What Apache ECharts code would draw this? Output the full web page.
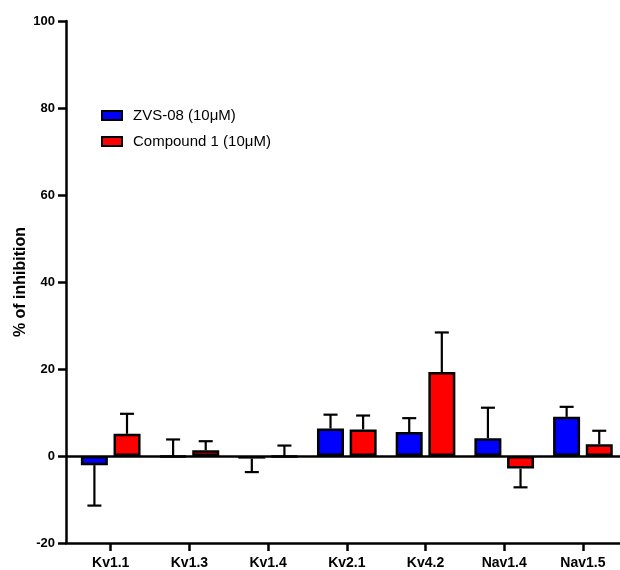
<!DOCTYPE html>
<html>
<head>
<meta charset="utf-8">
<script src="https://cdn.jsdelivr.net/npm/echarts@6/dist/echarts.min.js"></script>
<style>
html,body{margin:0;padding:0;background:#fff;}
#chart{width:620px;height:570px;}
</style>
</head>
<body>
<div id="chart"></div>
<script>
const categories = ['Kv1.1', 'Kv1.3', 'Kv1.4', 'Kv2.1', 'Kv4.2', 'Nav1.4', 'Nav1.5'];
const seriesNames = ['ZVS-08 (10\u03bcM)', 'Compound 1 (10\u03bcM)'];
const zvsValues = [-2.1, -0.2, -0.6, 6.3, 5.5, 4.1, 9.0];
const zvsErrorEnds = [-11.4, 3.8, -3.7, 9.5, 8.7, 11.1, 11.3];
const cmpValues = [5.1, 1.3, -0.2, 6.1, 19.3, -2.9, 2.7];
const cmpErrorEnds = [9.7, 3.4, 2.4, 9.3, 28.4, -7.2, 5.8];
const yTicks = [-20, 0, 20, 40, 60, 80, 100];

const FONT = '"Liberation Sans", Arial, sans-serif';
const chart = echarts.init(document.getElementById('chart'), null, {renderer: 'canvas'});

function barData(vals) { return vals.map((v, i) => [i, v]); }
function errData(vals, ends) { return vals.map((v, i) => [i, v, ends[i]]); }

function errRender(offset) {
  return function (params, api) {
    const i = api.value(0);
    const p0 = api.coord([i, api.value(1)]);
    const p1 = api.coord([i, api.value(2)]);
    const x = p0[0] + offset;
    const style = {stroke: '#000', lineWidth: 2.2};
    return {
      type: 'group',
      children: [
        {type: 'line', shape: {x1: x, y1: p0[1], x2: x, y2: p1[1]}, style: style},
        {type: 'line', shape: {x1: x - 7, y1: p1[1], x2: x + 7, y2: p1[1]}, style: style}
      ]
    };
  };
}

const tickIdx = categories.map((c, i) => i);

chart.setOption({
  animation: false,
  backgroundColor: '#fff',
  textStyle: {fontFamily: FONT},
  grid: {left: 66, right: 0, top: 21, bottom: 25.5, containLabel: false},
  legend: {
    orient: 'vertical',
    left: 101,
    top: 108,
    padding: 0,
    icon: 'rect',
    itemWidth: 20,
    itemHeight: 9,
    itemGap: 11,
    textStyle: {fontFamily: FONT, fontSize: 15, color: '#000', lineHeight: 15, padding: [0, 0, 0, 6]},
    data: seriesNames
  },
  xAxis: {
    type: 'value',
    min: -0.568,
    max: 6.471,
    splitLine: {show: false},
    axisLine: {onZero: false, lineStyle: {color: '#000', width: 2.5}},
    axisTick: {customValues: tickIdx, length: 8, lineStyle: {color: '#000', width: 2.5}},
    axisLabel: {
      customValues: tickIdx,
      formatter: v => categories[Math.round(v)],
      fontFamily: FONT, fontSize: 14, fontWeight: 'bold', color: '#000', margin: 13
    }
  },
  yAxis: {
    type: 'value',
    min: yTicks[0],
    max: yTicks[yTicks.length - 1],
    interval: 20,
    name: '% of inhibition',
    nameLocation: 'middle',
    nameRotate: 90,
    nameGap: 37,
    nameMoveOverlap: false,
    nameTextStyle: {fontFamily: FONT, fontSize: 16, fontWeight: 'bold', color: '#000'},
    splitLine: {show: false},
    axisLine: {show: true, onZero: false, lineStyle: {color: '#000', width: 2.5}},
    axisTick: {show: true, length: 8, lineStyle: {color: '#000', width: 2.5}},
    axisLabel: {fontFamily: FONT, fontSize: 13, fontWeight: 'bold', color: '#000', margin: 11}
  },
  series: [
    {
      name: seriesNames[0],
      type: 'bar',
      barWidth: 27,
      barGap: '21%',
      data: barData(zvsValues),
      itemStyle: {color: '#0000ff', borderColor: '#000', borderWidth: 2.5},
      markLine: {
        silent: true, symbol: 'none', label: {show: false},
        lineStyle: {color: '#000', width: 2.5, type: 'solid'},
        data: [{yAxis: 0}]
      },
      z: 3
    },
    {
      name: seriesNames[1],
      type: 'bar',
      barWidth: 27,
      barGap: '21%',
      data: barData(cmpValues),
      itemStyle: {color: '#ff0000', borderColor: '#000', borderWidth: 2.5},
      z: 3
    },
    {
      type: 'custom',
      renderItem: errRender(-16.3),
      data: errData(zvsValues, zvsErrorEnds),
      silent: true,
      z: 2
    },
    {
      type: 'custom',
      renderItem: errRender(16.3),
      data: errData(cmpValues, cmpErrorEnds),
      silent: true,
      z: 2
    }
  ]
});
</script>
</body>
</html>
